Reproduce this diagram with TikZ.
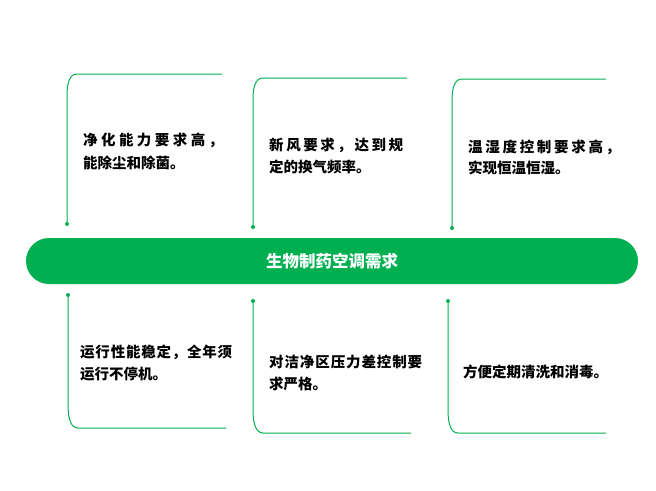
\documentclass[tikz,border=0pt]{standalone}
\usepackage{fontspec}
\newfontfamily\cjk{Noto Sans CJK SC}
\definecolor{grn}{HTML}{00B050}
\newcommand\spr[2]{\makebox[#1pt][s]{#2}}
\tikzset{
  frame/.style={draw=grn, line width=1pt},
  dotc/.style={circle, fill=grn, inner sep=0pt, minimum size=4pt},
  txt/.style={anchor=west, inner sep=0pt, font=\cjk\bfseries\fontsize{14.5}{17}\selectfont},
  bar/.style={fill=grn, rounded corners=23pt, minimum width=612pt, minimum height=46pt, inner sep=0pt, text=white, font=\cjk\bfseries\fontsize{16.5}{19}\selectfont}
}
\begin{document}
\begin{tikzpicture}[x=1pt,y=-1pt]
\useasboundingbox (0,0) rectangle (656,490);
\node[bar] (bar) at (332,261) {生物制药空调需求};
% top-left
\coordinate (tld) at (67,224); \coordinate (tlc) at (67,96); \coordinate (tle) at (222,74);
\draw[frame] (tld) -- (tlc) .. controls (67,82) and (70,74) .. (77,74) -- (tle);
\node[dotc] (tldot) at (tld) {};
% top-mid
\coordinate (tmd) at (253,227); \coordinate (tmc) at (253,99); \coordinate (tme) at (407,78);
\draw[frame] (tmd) -- (tmc) .. controls (253,86) and (256,78) .. (263,78) -- (tme);
\node[dotc] (tmdot) at (tmd) {};
% top-right
\coordinate (trd) at (452,228); \coordinate (trc) at (452,100); \coordinate (tre) at (606,79);
\draw[frame] (trd) -- (trc) .. controls (452,87) and (455,79) .. (462,79) -- (tre);
\node[dotc] (trdot) at (trd) {};
% bottom-left
\coordinate (bld) at (68,295); \coordinate (blc) at (68,405); \coordinate (ble) at (226,428);
\draw[frame] (bld) -- (blc) .. controls (68,419) and (71,428) .. (78,428) -- (ble);
\node[dotc] (bldot) at (bld) {};
% bottom-mid
\coordinate (bmd) at (253,301); \coordinate (bmc) at (253,410); \coordinate (bme) at (411,433);
\draw[frame] (bmd) -- (bmc) .. controls (253,424) and (256,433) .. (263,433) -- (bme);
\node[dotc] (bmdot) at (bmd) {};
% bottom-right
\coordinate (brd) at (448,301); \coordinate (brc) at (448,410); \coordinate (bre) at (606,433);
\draw[frame] (brd) -- (brc) .. controls (448,424) and (451,433) .. (458,433) -- (bre);
\node[dotc] (brdot) at (brd) {};
% texts
\node[txt] (t1a) at (83,140) {\spr{140}{净\hfill 化\hfill 能\hfill 力\hfill 要\hfill 求\hfill 高\hfill ，}};
\node[txt] (t1b) at (83,163) {能除尘和除菌。};
\node[txt] (t2a) at (269,145) {\spr{134}{新\hfill 风\hfill 要\hfill 求\hfill ，\hfill 达\hfill 到\hfill 规}};
\node[txt] (t2b) at (269,167) {定的换气频率。};
\node[txt] (t3a) at (468,147) {\spr{152}{温\hfill 湿\hfill 度\hfill 控\hfill 制\hfill 要\hfill 求\hfill 高\hfill ，}};
\node[txt] (t3b) at (468,168) {实现恒温恒湿。};
\node[txt] (t4a) at (80,352) {\spr{152}{运\hfill 行\hfill 性\hfill 能\hfill 稳\hfill 定\hfill ，\hfill 全\hfill 年\hfill 须}};
\node[txt] (t4b) at (80,374) {运行不停机。};
\node[txt] (t5a) at (269,362) {\spr{153}{对\hfill 洁\hfill 净\hfill 区\hfill 压\hfill 力\hfill 差\hfill 控\hfill 制\hfill 要}};
\node[txt] (t5b) at (269,384) {求严格。};
\node[txt] (t6a) at (463,372) {方便定期清洗和消毒。};
\end{tikzpicture}
\end{document}
